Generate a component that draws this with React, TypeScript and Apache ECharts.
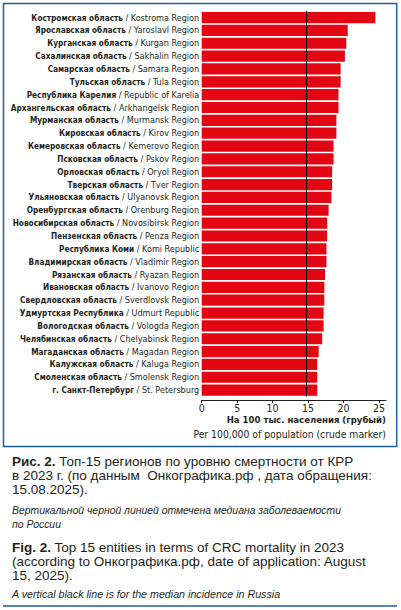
import React, { useEffect, useRef } from "react";
import * as echarts from "echarts";

const regionsRu = [
  "Костромская область", "Ярославская область", "Курганская область", "Сахалинская область",
  "Самарская область", "Тульская область", "Республика Карелия", "Архангельская область",
  "Мурманская область", "Кировская область", "Кемеровская область", "Псковская область",
  "Орловская область", "Тверская область", "Ульяновская область", "Оренбургская область",
  "Новосибирская область", "Пензенская область", "Республика Коми", "Владимирская область",
  "Рязанская область", "Ивановская область", "Свердловская область", "Удмуртская Республика",
  "Вологодская область", "Челябинская область", "Магаданская область", "Калужская область",
  "Смоленская область", "г. Санкт-Петербург",
];
const regionsEn = [
  "Kostroma Region", "Yaroslavl Region", "Kurgan Region", "Sakhalin Region",
  "Samara Region", "Tula Region", "Republic of Karelia", "Arkhangelsk Region",
  "Murmansk Region", "Kirov Region", "Kemerovo Region", "Pskov Region",
  "Oryol Region", "Tver Region", "Ulyanovsk Region", "Orenburg Region",
  "Novosibirsk Region", "Penza Region", "Komi Republic", "Vladimir Region",
  "Ryazan Region", "Ivanovo Region", "Sverdlovsk Region", "Udmurt Republic",
  "Vologda Region", "Chelyabinsk Region", "Magadan Region", "Kaluga Region",
  "Smolensk Region", "St. Petersburg",
];
const mortality = [
  24.5, 20.6, 20.4, 20.2, 19.6, 19.6, 19.3, 19.3, 19.0, 19.0,
  18.6, 18.6, 18.4, 18.4, 18.3, 17.9, 17.7, 17.7, 17.6, 17.6,
  17.4, 17.3, 17.3, 17.2, 17.2, 17.0, 16.5, 16.3, 16.3, 16.3,
];
const medianRussia = 14.7;
const xTicks = { min: 0, max: 26, interval: 5 };
const axisNameRu = "На 100 тыс. населения (грубый)";
const axisNameEn = "Per 100,000 of population (crude marker)";
const captionRu = [
  "{b|Рис. 2.} Топ-15 регионов по уровню смертности от КРР",
  "в 2023 г. (по данным  Онкографика.рф , дата обращения:",
  "15.08.2025).",
];
const noteRu = ["Вертикальной черной линией отмечена медиана заболеваемости", "по России"];
const captionEn = [
  "{b|Fig. 2.} Top 15 entities in terms of CRC mortality in 2023",
  "(according to Онкографика.рф, date of application: August",
  "15, 2025).",
];
const noteEn = "A vertical black line is for the median incidence in Russia";

const NARROW = "'Liberation Sans Narrow', 'DejaVu Sans Condensed', 'Liberation Sans', Arial, sans-serif";
const SANS = "'Liberation Sans', Arial, Helvetica, sans-serif";
const INK = "#231f20";
const BLUE = "#1f5ca6";
const RED = "#e30613";
const CAP = 13.5;
const LEAD = 13.8;

export default function App() {
  const ref = useRef<HTMLDivElement>(null);
  useEffect(() => {
    if (!ref.current) return;
    const chart = echarts.init(ref.current, undefined, { renderer: "svg" });
    const cats = regionsRu.map((r, i) => r + "||" + regionsEn[i]);

    const capText = (text: string, y: number) => ({
      type: "text",
      x: 12,
      y,
      style: {
        text,
        fill: INK,
        font: `${CAP}px ${SANS}`,
        lineHeight: CAP,
        verticalAlign: "middle",
        rich: {
          b: { fontWeight: "bold", fontSize: CAP, fontFamily: SANS, fill: INK, lineHeight: CAP },
        },
      },
    });
    const noteText = (text: string, y: number, size: number) => ({
      type: "text",
      x: 12,
      y,
      style: {
        text,
        fill: INK,
        font: `italic ${size}px ${SANS}`,
        lineHeight: size + 1,
        verticalAlign: "middle",
      },
    });

    chart.setOption({
      animation: false,
      grid: {
        left: 201.7,
        right: 15,
        top: 11.15,
        bottom: 610 - 396.55,
        containLabel: false,
        outerBoundsMode: "none",
      },
      xAxis: {
        type: "value",
        min: xTicks.min,
        max: xTicks.max,
        interval: xTicks.interval,
        offset: 3.5,
        axisLine: { show: true, lineStyle: { color: INK, width: 1 } },
        axisTick: { show: true, length: 3, lineStyle: { color: INK } },
        splitLine: { show: false },
        axisLabel: {
          color: INK,
          fontFamily: NARROW,
          fontSize: 10.5,
          margin: 2,
          showMaxLabel: false,
          formatter: (v: number) => (v % xTicks.interval === 0 ? String(v) : ""),
        },
      },
      yAxis: {
        type: "category",
        inverse: true,
        data: cats,
        axisLine: { show: false },
        axisTick: { show: false },
        axisLabel: {
          margin: 2.5,
          interval: 0,
          color: INK,
          fontFamily: NARROW,
          fontSize: 9,
          formatter: (v: string) => {
            const [ru, en] = v.split("||");
            return `{b|${ru}}{n| / ${en}}`;
          },
          rich: {
            b: { fontWeight: "bold", fontFamily: NARROW, fontSize: 8.2, color: INK },
            n: { fontFamily: NARROW, fontSize: 9, color: INK },
          },
        },
      },
      series: [
        {
          type: "bar",
          data: mortality,
          barCategoryGap: "13%",
          itemStyle: { color: RED },
          markLine: {
            silent: true,
            symbol: "none",
            label: { show: false },
            lineStyle: { color: "#000", width: 1, type: "solid" },
            data: [{ xAxis: medianRussia }],
          },
        },
      ],
      graphic: [
        {
          type: "rect",
          shape: { x: 3.5, y: 3.5, width: 393.2, height: 443 },
          style: { fill: "none", stroke: BLUE, lineWidth: 1.5 },
          z: 0,
        },
        {
          type: "line",
          shape: { x1: 3, y1: 606, x2: 397, y2: 606 },
          style: { stroke: BLUE, lineWidth: 1.5 },
        },
        {
          type: "text",
          x: 386,
          y: 419.5,
          style: {
            text: axisNameRu,
            fill: INK,
            font: `bold 9.5px ${NARROW}`,
            align: "right",
            verticalAlign: "middle",
          },
        },
        {
          type: "text",
          x: 386,
          y: 434,
          style: {
            text: axisNameEn,
            fill: INK,
            font: `10.3px ${NARROW}`,
            align: "right",
            verticalAlign: "middle",
          },
        },
        capText(captionRu[0], 461.5),
        capText(captionRu[1], 461.5 + LEAD),
        capText(captionRu[2], 461.5 + 2 * LEAD),
        noteText(noteRu[0], 510, 10.4),
        noteText(noteRu[1], 524.3, 10.4),
        capText(captionEn[0], 547.8),
        capText(captionEn[1], 547.8 + LEAD),
        capText(captionEn[2], 547.8 + 2 * LEAD),
        noteText(noteEn, 594.3, 10.7),
      ],
    });
    return () => chart.dispose();
  }, []);
  return (
    <div
      ref={ref}
      style={{ position: "absolute", left: 0, top: 0, width: 401, height: 610, background: "#fff" }}
    />
  );
}
